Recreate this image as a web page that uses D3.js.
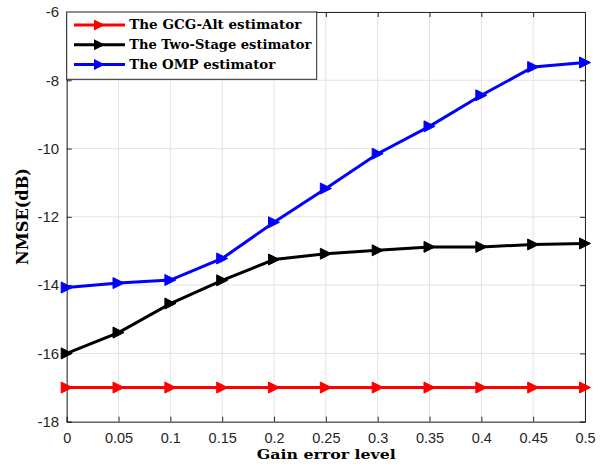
<!DOCTYPE html>
<html><head><meta charset="utf-8">
<script src="https://cdn.jsdelivr.net/npm/d3@7"></script>
<style>body{margin:0;background:#fff}svg{display:block}</style>
</head><body><svg id="c" width="608" height="470"></svg>
<script>
const xValues = [0,0.05,0.1,0.15,0.2,0.25,0.3,0.35,0.4,0.45,0.5];
const gcgAlt = [-17,-17,-17,-17,-17,-17,-17,-17,-17,-17,-17];
const twoStage = [-16,-15.39,-14.54,-13.86,-13.25,-13.08,-12.98,-12.88,-12.88,-12.81,-12.78];
const omp = [-14.07,-13.94,-13.85,-13.22,-12.16,-11.17,-10.15,-9.35,-8.44,-7.61,-7.48];
const seriesNames = ["The GCG-Alt estimator","The Two-Stage estimator","The OMP estimator"];
const seriesColors = ["#ff0000","#000000","#0000ff"];
const xTicks = [0,0.05,0.1,0.15,0.2,0.25,0.3,0.35,0.4,0.45,0.5];
const yTicks = [-18,-16,-14,-12,-10,-8,-6];

const L=66.7,R=585,T=12,B=421.7;
const svg=d3.select("#c");
const x=d3.scaleLinear().domain([0,0.5]).range([L,R]);
const y=d3.scaleLinear().domain([-18,-6]).range([B,T]);
const g=svg.append("g");
// grid
g.selectAll(".gx").data(xTicks).enter().append("line").attr("x1",d=>x(d)).attr("x2",d=>x(d)).attr("y1",T).attr("y2",B).attr("stroke","#e3e3e3").attr("stroke-width",1);
g.selectAll(".gy").data(yTicks).enter().append("line").attr("y1",d=>y(d)).attr("y2",d=>y(d)).attr("x1",L).attr("x2",R).attr("stroke","#e3e3e3").attr("stroke-width",1);
// axes
const fmt=d=>String(d);
const ax=g.append("g").attr("transform",`translate(0,${B})`).call(d3.axisBottom(x).tickValues(xTicks).tickFormat(fmt).tickSize(-5).tickPadding(11.5));
const ay=g.append("g").attr("transform",`translate(${L},0)`).call(d3.axisLeft(y).tickValues(yTicks).tickFormat(fmt).tickSize(-5).tickPadding(7.5));
const ax2=g.append("g").attr("transform",`translate(0,${T})`).call(d3.axisTop(x).tickValues(xTicks).tickFormat("").tickSize(-5));
const ay2=g.append("g").attr("transform",`translate(${R},0)`).call(d3.axisRight(y).tickValues(yTicks).tickFormat("").tickSize(-5));
[ax,ay,ax2,ay2].forEach(a=>{a.selectAll("path,line").attr("stroke","#262626");a.select(".domain").attr("stroke-width",1);a.selectAll("text").attr("fill","#262626").style("font-family","Liberation Sans, Arial, sans-serif").style("font-size","15px");});
ax.selectAll("text").style("font-size","14.5px");
// series
const all=[gcgAlt,twoStage,omp];
const line=d3.line().x((d,i)=>x(xValues[i])).y(d=>y(d));
const tri=d3.symbol().type({draw(ctx,size){const s=5.5;ctx.moveTo(s,0);ctx.lineTo(-s,-s);ctx.lineTo(-s,s);ctx.closePath();}});
all.forEach((s,k)=>{
  g.append("path").datum(s).attr("d",line).attr("fill","none").attr("stroke",seriesColors[k]).attr("stroke-width",3);
  g.selectAll(".m"+k).data(s).enter().append("path").attr("d",tri()).attr("transform",(d,i)=>`translate(${x(xValues[i])},${y(d)})`).attr("fill",seriesColors[k]).attr("stroke",seriesColors[k]).attr("stroke-width",1);
});
// legend
const legendWidths=[172,182,146];
const lg=g.append("g");
lg.append("rect").attr("x",L).attr("y",T).attr("width",250).attr("height",67.3).attr("fill","#fff").attr("stroke","#262626").attr("stroke-width",1);
seriesNames.forEach((n,k)=>{
  const yy=T+13+k*19.7;
  lg.append("line").attr("x1",74).attr("x2",125).attr("y1",yy).attr("y2",yy).attr("stroke",seriesColors[k]).attr("stroke-width",3);
  lg.append("path").attr("d",tri()).attr("transform",`translate(99.5,${yy})`).attr("fill",seriesColors[k]);
  lg.append("text").attr("x",129.3).attr("y",yy+4.3).text(n).attr("textLength",legendWidths[k]).attr("lengthAdjust","spacingAndGlyphs").style("font-family","DejaVu Serif, serif").style("font-weight","bold").style("font-size","13px").attr("fill","#000");
});
// labels
svg.append("text").attr("x",326.3).attr("y",459).attr("text-anchor","middle").text("Gain error level").attr("textLength",139).attr("lengthAdjust","spacingAndGlyphs").style("font-family","DejaVu Serif, serif").style("font-weight","bold").style("font-size","13.5px");
svg.append("text").attr("transform",`translate(28,216.5) rotate(-90)`).attr("text-anchor","middle").text("NMSE(dB)").attr("textLength",97).attr("lengthAdjust","spacingAndGlyphs").style("font-family","DejaVu Serif, serif").style("font-weight","bold").style("font-size","16.5px");
</script></body></html>
